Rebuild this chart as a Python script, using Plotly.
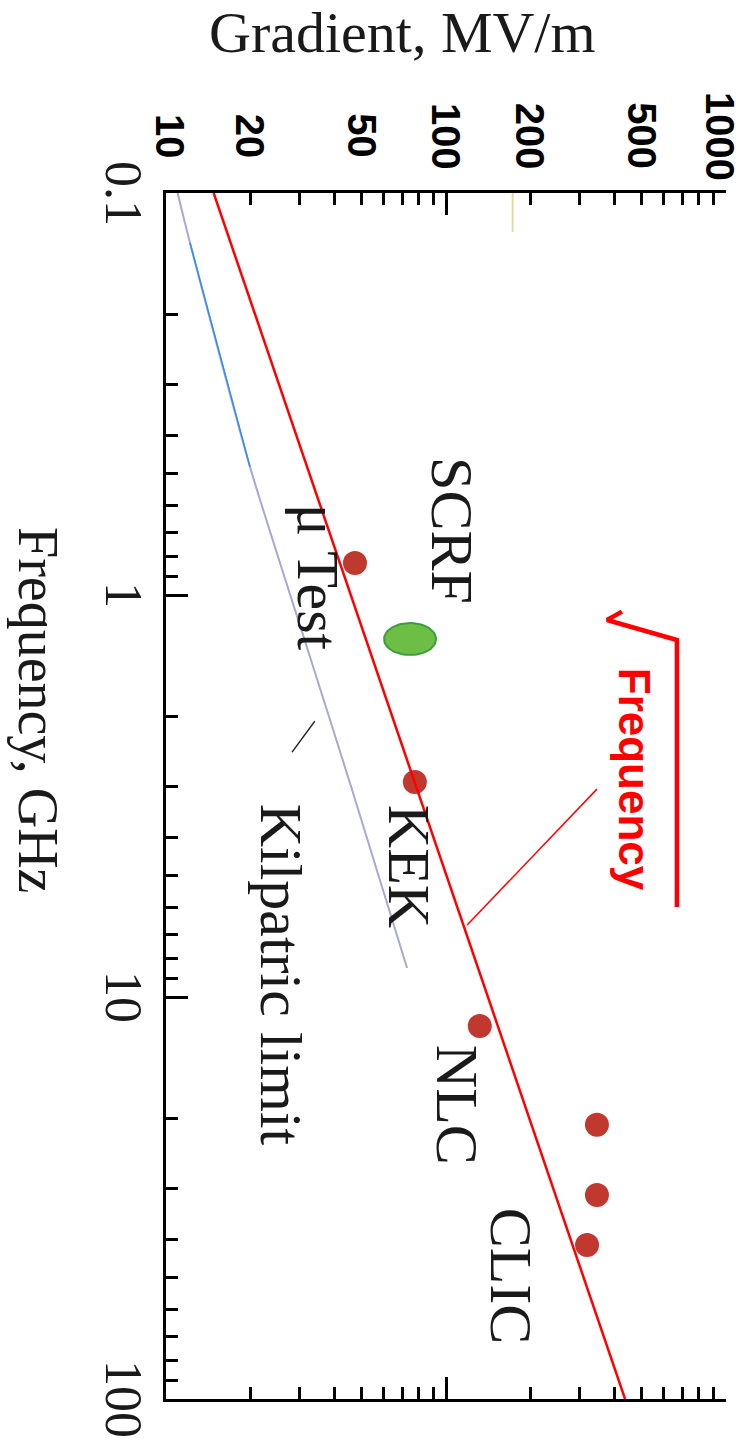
import numpy as np
import plotly.graph_objects as go

# ---------------- data ----------------
grad_ticks = [10, 20, 50, 100, 200, 500, 1000]
grad_ticktext = ["10", "20", "50", "100", "200", "500", "1000"]
grad_minor = [30, 40, 60, 70, 80, 90, 300, 400, 600, 700, 800, 900]
grad_decades = [10, 100, 1000]

freq_ticks = [0.1, 1, 10, 100]
freq_ticktext = ["0.1", "1", "10", "100"]
freq_minor = [0.2, 0.3, 0.4, 0.5, 0.6, 0.7, 0.8, 0.9,
              2, 3, 4, 5, 6, 7, 8, 9,
              20, 30, 40, 50, 60, 70, 80, 90]

# sqrt(frequency) scaling line
sqrt_grad = [14.8, 436]
sqrt_freq = [0.1, 100]

# Kilpatrick limit curve
kilp_grad = [11.0, 12.18, 19.95, 32.1, 45.4, 72.6]
kilp_freq = [0.1, 0.133, 0.480, 1.370, 2.936, 8.47]
kilp_blue_grad = [12.18, 19.95]
kilp_blue_freq = [0.133, 0.480]

# machines (red dots)
machine_names = ["μ Test", "KEK", "NLC", "CLIC", "CLIC", "CLIC"]
machine_grad = [47.3, 77.4, 132, 346, 346, 319]
machine_freq = [0.832, 2.92, 11.8, 20.8, 31.1, 41.4]

# SCRF (green ellipse)
scrf_grad = [74.4]
scrf_freq = [1.287]

# text labels
label_text = ["SCRF", "μ Test", "KEK", "Kilpatric limit", "NLC", "CLIC"]
label_grad = [105, 34.9, 73.8, 25.8, 109, 171]
label_freq = [0.693, 0.907, 4.72, 8.81, 18.6, 49.4]

# red "sqrt Frequency" note
note_text = "Frequency"
note_grad = [469]
note_freq = [2.88]
radical_grad = [425, 376, 668, 668]
radical_freq = [1.10, 1.154, 1.294, 5.97]
leader_grad = [346, 119]
leader_freq = [3.04, 6.62]
kilp_leader_grad = [28.2, 34.0]
kilp_leader_freq = [2.46, 2.06]

# faint marker line near 200
faint_grad = [173, 173]
faint_freq = [0.1, 0.125]

# ---------------- layout geometry ----------------
W, H = 746, 1450
ML, MR, MT, MB = 166, 20, 193, 51
PW, PH = W - ML - MR, H - MT - MB
X_DEC = PW / 2.0   # px per decade (gradient)
Y_DEC = PH / 3.0   # px per decade (frequency)

def px_x(px):
    return (px - ML) / PW

def px_y(py):
    return (H - MB - py) / PH

RED_DOT = "#C1382E"
fig = go.Figure()

fig.add_trace(go.Scatter(x=faint_grad, y=faint_freq, mode="lines",
                         line=dict(color="#E6D9A8", width=2), hoverinfo="skip"))
fig.add_trace(go.Scatter(x=kilp_grad, y=kilp_freq, mode="lines",
                         line=dict(color="#A8A8D4", width=2, shape="spline", smoothing=0.6),
                         hoverinfo="skip"))
fig.add_trace(go.Scatter(x=kilp_blue_grad, y=kilp_blue_freq, mode="lines",
                         line=dict(color="#2C8EF0", width=1.5), hoverinfo="skip"))
fig.add_trace(go.Scatter(x=kilp_leader_grad, y=kilp_leader_freq, mode="lines",
                         line=dict(color="#222222", width=1.5), hoverinfo="skip"))

# SCRF ellipse: 52 x 32 px outline around the data point
theta = np.linspace(0, 2 * np.pi, 73)
ell_x = 10 ** (np.log10(scrf_grad[0]) + (26.0 / X_DEC) * np.cos(theta))
ell_y = 10 ** (np.log10(scrf_freq[0]) + (16.0 / Y_DEC) * np.sin(theta))
fig.add_trace(go.Scatter(x=ell_x, y=ell_y, mode="lines", fill="toself",
                         fillcolor="#6CBE45", line=dict(color="#3D9E3D", width=2),
                         hoverinfo="skip"))

fig.add_trace(go.Scatter(x=machine_grad, y=machine_freq, mode="markers",
                         text=machine_names,
                         marker=dict(color=RED_DOT, size=24, line=dict(width=0))))
fig.add_trace(go.Scatter(x=sqrt_grad, y=sqrt_freq, mode="lines",
                         line=dict(color="#FF0000", width=2.5), hoverinfo="skip"))
fig.add_trace(go.Scatter(x=leader_grad, y=leader_freq, mode="lines",
                         line=dict(color="#FF0000", width=1.5), hoverinfo="skip"))
fig.add_trace(go.Scatter(x=radical_grad, y=radical_freq, mode="lines",
                         line=dict(color="#FF0000", width=4.5), hoverinfo="skip"))
# dummy trace for the overlay axis (long decade ticks)
fig.add_trace(go.Scatter(x=[grad_decades[1]], y=[freq_ticks[1]], xaxis="x2", yaxis="y",
                         mode="markers", marker=dict(opacity=0), hoverinfo="skip"))

# labels
for t, g, f in zip(label_text, label_grad, label_freq):
    fig.add_annotation(x=np.log10(g), y=np.log10(f), xref="x", yref="y",
                       text=t, showarrow=False, textangle=90,
                       font=dict(family="Liberation Serif", size=60, color="#1a1a1a"),
                       xanchor="center", yanchor="middle")
fig.add_annotation(x=np.log10(note_grad[0]), y=np.log10(note_freq[0]), xref="x", yref="y",
                   text=note_text, showarrow=False, textangle=90,
                   font=dict(family="Liberation Sans", size=44, color="#FF0000", weight="bold"),
                   xanchor="center", yanchor="middle")

# gradient tick labels (centred above the top axis, rotated)
for i, (v, t) in enumerate(zip(grad_ticks, grad_ticktext)):
    shift = 4 if i == 0 else (-6 if i == len(grad_ticks) - 1 else 0)
    fig.add_annotation(x=np.log10(v), y=px_y(136), xref="x", yref="paper",
                       text=t, showarrow=False, textangle=90, xshift=shift,
                       font=dict(family="Liberation Sans", size=40, color="black", weight="bold"),
                       xanchor="center", yanchor="middle", borderpad=0)

# frequency tick labels (left of the axis, rotated)
for v, t in zip(freq_ticks, freq_ticktext):
    fig.add_annotation(x=px_x(124), y=np.log10(v), xref="paper", yref="y",
                       text=t, showarrow=False, textangle=90,
                       font=dict(family="Liberation Serif", size=52, color="#1a1a1a"),
                       xanchor="center", yanchor="middle", borderpad=0)

# axis titles
fig.add_annotation(x=px_x(402), y=px_y(32), xref="paper", yref="paper",
                   text="Gradient, MV/m", showarrow=False,
                   font=dict(family="Liberation Serif", size=58, color="#1a1a1a"),
                   xanchor="center", yanchor="middle", borderpad=0)
fig.add_annotation(x=px_x(38), y=px_y(710), xref="paper", yref="paper",
                   text="Frequency, GHz", showarrow=False, textangle=90,
                   font=dict(family="Liberation Serif", size=56, color="#1a1a1a"),
                   xanchor="center", yanchor="middle")

axis_common = dict(type="log", showgrid=False, zeroline=False, color="black")

fig.update_layout(
    width=W, height=H,
    margin=dict(l=ML, r=MR, t=MT, b=MB),
    paper_bgcolor="white", plot_bgcolor="white",
    showlegend=False,
    xaxis=dict(**axis_common, range=[1, 3], side="top", anchor="y",
               showline=True, linewidth=3, linecolor="black", mirror="ticks",
               tickvals=grad_ticks, showticklabels=False,
               ticks="inside", ticklen=12, tickwidth=3, tickcolor="black",
               minor=dict(tickvals=grad_minor, ticks="inside", ticklen=12, tickwidth=3,
                          tickcolor="black", showgrid=False)),
    xaxis2=dict(**axis_common, range=[1, 3], side="top", anchor="y", overlaying="x",
                showline=False, mirror="ticks", tickvals=grad_decades,
                ticks="inside", ticklen=22, tickwidth=3, tickcolor="black",
                showticklabels=False),
    yaxis=dict(**axis_common, range=[2, -1], anchor="x",
               showline=True, linewidth=3, linecolor="black",
               tickvals=freq_ticks, showticklabels=False,
               ticks="inside", ticklen=22, tickwidth=3, tickcolor="black",
               minor=dict(tickvals=freq_minor, ticks="inside", ticklen=12, tickwidth=3,
                          tickcolor="black", showgrid=False)),
)

fig.write_html("out.html", config={"displayModeBar": False},
               post_script="document.body.style.margin='0px';")
